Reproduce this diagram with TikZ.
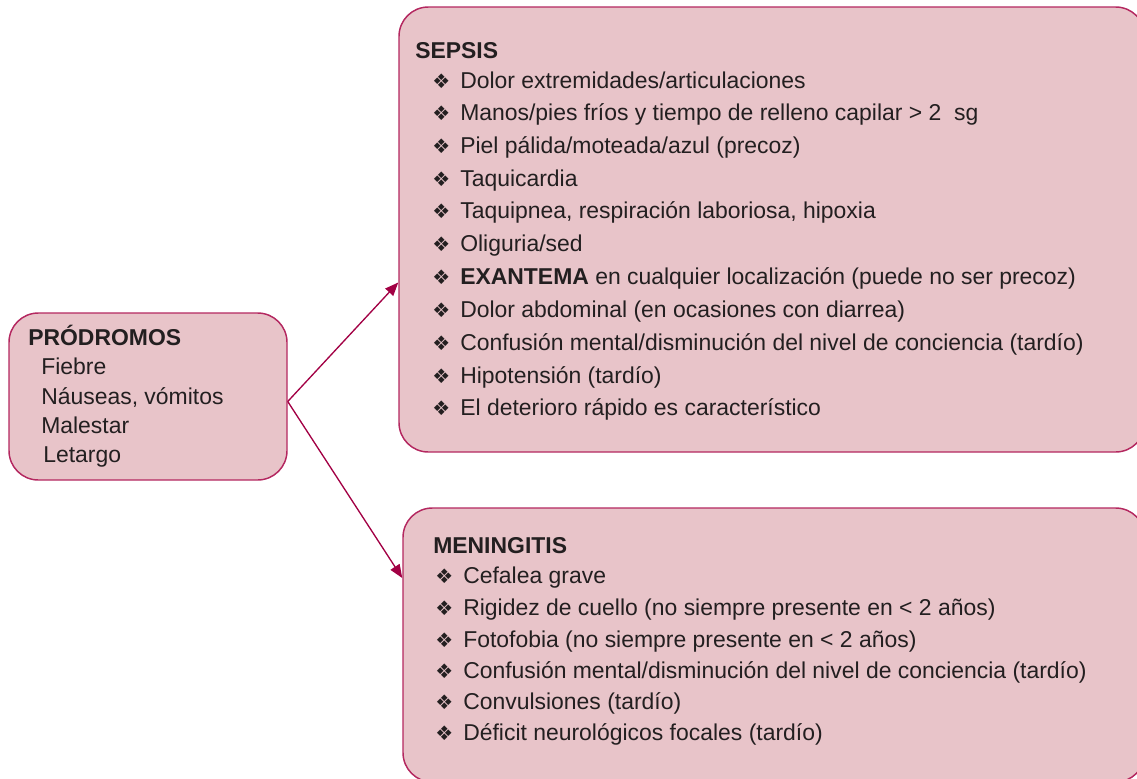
\documentclass[tikz,border=0pt]{standalone}
\usepackage{fontspec}
\setmainfont{Liberation Sans}
\newfontfamily\symfont{DejaVu Sans}
\usetikzlibrary{arrows.meta,calc}

\definecolor{boxfill}{RGB}{232,196,201}
\definecolor{boxline}{RGB}{180,40,96}
\definecolor{linkred}{RGB}{162,0,68}
\definecolor{txtcol}{RGB}{35,31,32}

% bullet with fixed room after it
\newcommand{\bul}{\makebox[21pt][l]{\symfont\fontsize{15}{15}\selectfont ❖}}

\begin{document}
\begin{tikzpicture}[x=0.75pt,y=0.75pt,yscale=-1,xscale=1,
  box/.style={draw=boxline, fill=boxfill, line width=1.1pt, rounded corners=22pt, inner sep=0pt},
  txt/.style={anchor=base west, inner sep=0pt, text=txtcol, font=\fontsize{17.2}{20}\selectfont},
  link/.style={draw=linkred, line width=1pt, -{Triangle[length=10pt,width=8pt]}}]
\useasboundingbox (0,0) rectangle (1137,778);

%Boxes
\node [box, minimum width=208.5pt, minimum height=125.25pt] (prod) at (148,396.5) {};
\node [box, minimum width=559.5pt, minimum height=333.75pt] (sepsis) at (772,229.5) {};
\node [box, minimum width=556.5pt, minimum height=205.5pt] (menin) at (774,645) {};

%Arrows
\draw [link] ($(prod.east)+(0,5)$) -- ($(sepsis.west)+(0,53)$);
\draw [link] ($(prod.east)+(0,5)$) -- ($(menin.west)+(0,-67)$);

% Text Node
\node [txt] (ptitle) at (28,345) {\bfseries PRÓDROMOS};
\node [txt] (p1) at (41,374) {Fiebre};
\node [txt] (p2) at (41,404) {Náuseas, vómitos};
\node [txt] (p3) at (41,433) {Malestar};
\node [txt] (p4) at (43,462) {Letargo};

% Text Node
\node [txt] (stitle) at (415,58) {\bfseries SEPSIS};
\node [txt] (s1) at (432,88) {\bul Dolor extremidades/articulaciones};
\node [txt] (s2) at (432,120) {\bul Manos/pies fríos y tiempo de relleno capilar > 2\ \ sg};
\node [txt] (s3) at (432,153) {\bul Piel pálida/moteada/azul (precoz)};
\node [txt] (s4) at (432,186) {\bul Taquicardia};
\node [txt] (s5) at (432,218) {\bul Taquipnea, respiración laboriosa, hipoxia};
\node [txt] (s6) at (432,251) {\bul Oliguria/sed};
\node [txt] (s7) at (432,284) {\bul \textbf{EXANTEMA} en cualquier localización (puede no ser precoz)};
\node [txt] (s8) at (432,317) {\bul Dolor abdominal (en ocasiones con diarrea)};
\node [txt] (s9) at (432,350) {\bul Confusión mental/disminución del nivel de conciencia (tardío)};
\node [txt] (s10) at (432,383) {\bul Hipotensión (tardío)};
\node [txt] (s11) at (432,415) {\bul El deterioro rápido es característico};

% Text Node
\node [txt] (mtitle) at (433,553) {\bfseries MENINGITIS};
\node [txt] (m1) at (435,583) {\bul Cefalea grave};
\node [txt] (m2) at (435,615) {\bul Rigidez de cuello (no siempre presente en < 2 años)};
\node [txt] (m3) at (435,647) {\bul Fotofobia (no siempre presente en < 2 años)};
\node [txt] (m4) at (435,678) {\bul Confusión mental/disminución del nivel de conciencia (tardío)};
\node [txt] (m5) at (435,709) {\bul Convulsiones (tardío)};
\node [txt] (m6) at (435,740) {\bul Déficit neurológicos focales (tardío)};

\end{tikzpicture}
\end{document}
